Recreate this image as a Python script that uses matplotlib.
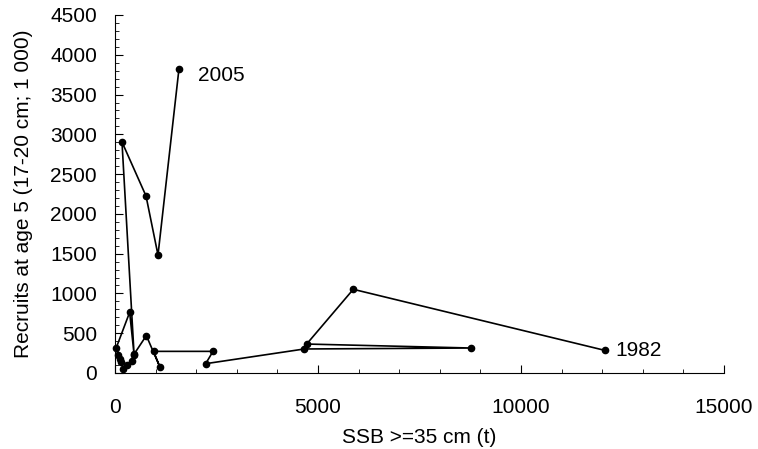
import matplotlib
matplotlib.use("Agg")
import matplotlib.pyplot as plt
from matplotlib.ticker import MultipleLocator

plt.rcParams['font.family'] = ['Liberation Sans', 'DejaVu Sans']

years = list(range(1982, 2006))
ssb = [12061, 5869, 4721, 8768, 4663, 2233, 2414, 950, 1110, 772, 480,
       411, 288, 205, 155, 74, 135, 33, 361, 470, 172, 764, 1059, 1576]
recruits = [285, 1052, 364, 314, 302, 117, 272, 272, 70, 470, 245,
            151, 100, 46, 142, 226, 180, 320, 763, 230, 2904, 2225, 1483, 3825]

x_ticks = [0, 5000, 10000, 15000]
y_ticks = list(range(0, 4501, 500))

fig = plt.figure(figsize=(7.58, 4.49), dpi=100)
ax = fig.add_axes([115/758, 1-373/449, (724-115)/758, (373-15)/449])

ax.plot(ssb, recruits, color='black', lw=1.2, marker='o', ms=4.5,
        markerfacecolor='black', markeredgecolor='black', clip_on=False)

ax.annotate(str(years[-1]), (ssb[-1], recruits[-1]), xytext=(14, -5),
            textcoords='offset points', fontsize=15, va='center')
ax.annotate(str(years[0]), (ssb[0], recruits[0]), xytext=(8, 0),
            textcoords='offset points', fontsize=15, va='center')

ax.set_xlim(0, 15000)
ax.set_ylim(0, 4500)
ax.set_xticks(x_ticks)
ax.set_yticks(y_ticks)
ax.xaxis.set_minor_locator(MultipleLocator(1000))
ax.yaxis.set_minor_locator(MultipleLocator(100))
ax.tick_params(axis='both', which='major', direction='in', length=6, labelsize=15)
ax.tick_params(axis='both', which='minor', direction='in', length=3)
ax.tick_params(axis='x', which='major', pad=18)
ax.tick_params(axis='y', which='major', pad=13)

for s in ['top', 'right']:
    ax.spines[s].set_visible(False)

ax.set_xlabel('SSB >=35 cm (t)', fontsize=15, labelpad=8)
ax.set_ylabel('Recruits at age 5 (17-20 cm; 1 000)', fontsize=15, labelpad=12)

fig.savefig('out.png', dpi=100)
